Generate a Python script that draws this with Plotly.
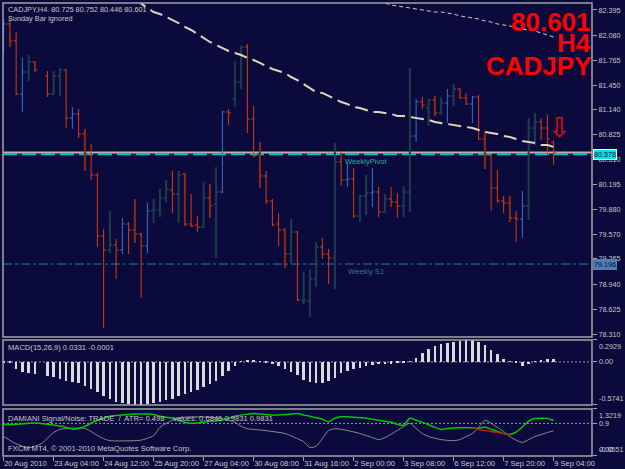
import plotly.graph_objects as go

# ---------------- data ----------------
symbol = "CADJPY"
timeframe = "H4"

bar_slot = [0, 1, 2, 3, 4, 5] + list(range(7, 89))
bar_kind = ["up_a", "dn_b", "dn_a", "up_a", "up_b", "dn_b",
            "dn_a", "up_b", "up_b", "dn_a", "up_a", "dn_a", "dn_b", "dn_a", "dn_a", "dn_a",
            "up_b", "dn_a", "up_a", "dn_a", "dn_b", "dn_a", "up_a", "up_b", "up_b", "up_b",
            "dn_a", "up_b", "dn_b", "dn_a", "dn_a", "up_b", "dn_b", "up_b", "up_a", "dn_a",
            "up_b", "up_b", "dn_a", "dn_a", "dn_b", "dn_a", "dn_a", "dn_a", "dn_b", "up_b",
            "dn_a", "up_b", "up_b", "up_b", "dn_a", "dn_a", "up_b", "dn_a", "up_a", "dn_a",
            "up_b", "up_b", "up_a", "dn_a", "up_b", "dn_a", "dn_a", "up_b", "up_b", "up_a",
            "dn_a", "up_b", "dn_b", "up_b", "up_a", "up_b", "dn_b", "dn_a", "up_a", "dn_a",
            "dn_b", "dn_a", "dn_a", "dn_a", "dn_b", "dn_a", "up_a", "up_b", "up_b", "dn_a",
            "dn_a", "dn_a"]
opens = [82.143, 82.219, 82.005, 81.337, 81.614, 81.740,
         81.564, 81.337, 81.564, 81.640, 81.035, 81.085, 80.834, 80.582, 80.317, 79.549,
         79.373, 79.436, 79.373, 79.700, 79.625, 79.574, 79.423, 79.864, 79.877, 80.028,
         80.128, 80.078, 80.330, 79.700, 79.688, 79.662, 80.028, 79.952, 80.103, 81.111,
         81.274, 81.488, 81.929, 81.022, 80.582, 80.305, 79.990, 79.700, 79.625, 79.322,
         79.599, 78.731, 78.731, 79.008, 79.411, 79.322, 79.272, 80.481, 80.254, 80.267,
         79.801, 80.053, 80.091, 80.103, 79.851, 80.015, 79.977, 79.927, 80.103, 80.808,
         81.237, 81.161, 81.262, 81.098, 81.224, 81.312, 81.400, 81.287, 81.211, 81.300,
         80.771, 80.569, 80.154, 79.990, 79.965, 79.776, 79.763, 79.927, 80.909, 80.985,
         80.909, 80.725]
highs = [82.269, 82.294, 82.118, 81.791, 81.828, 81.753,
         81.627, 81.627, 81.665, 81.652, 81.174, 81.148, 80.897, 80.708, 80.342, 79.637,
         79.864, 79.511, 79.776, 79.725, 80.015, 79.587, 79.965, 80.015, 80.141, 80.254,
         80.368, 80.368, 80.342, 80.078, 79.801, 80.229, 80.204, 80.418, 81.124, 81.148,
         81.753, 81.942, 81.967, 81.186, 80.733, 80.368, 80.015, 79.839, 79.650, 79.763,
         79.612, 79.096, 79.134, 79.474, 79.524, 79.385, 80.720, 80.620, 80.468, 80.405,
         80.065, 80.317, 80.405, 80.166, 80.078, 80.166, 80.091, 80.179, 81.665, 81.274,
         81.300, 81.274, 81.312, 81.300, 81.400, 81.463, 81.413, 81.350, 81.312, 81.325,
         80.871, 80.594, 80.380, 80.053, 80.053, 79.864, 80.116, 81.035, 81.098, 81.035,
         81.073, 80.752]
lows = [81.866, 81.929, 81.325, 81.111, 81.501, 81.614,
        81.300, 81.325, 81.312, 80.909, 80.897, 80.783, 80.368, 80.254, 79.411, 78.391,
        79.335, 79.008, 79.322, 79.322, 79.461, 78.768, 79.335, 79.713, 79.788, 79.977,
        79.839, 79.713, 79.675, 79.662, 79.599, 79.650, 79.776, 79.272, 80.091, 80.947,
        81.174, 81.400, 80.846, 80.544, 80.154, 79.952, 79.675, 79.423, 79.146, 79.196,
        78.731, 78.693, 78.529, 78.907, 79.259, 78.945, 78.882, 80.179, 80.166, 79.776,
        79.725, 79.814, 79.914, 79.788, 79.839, 79.914, 79.776, 79.788, 79.851, 80.733,
        81.148, 80.934, 81.060, 81.073, 80.972, 81.186, 81.274, 81.199, 80.972, 80.758,
        80.393, 79.864, 79.965, 79.839, 79.725, 79.474, 79.524, 79.751, 80.695, 80.758,
        80.569, 80.446]
closes = [82.219, 82.005, 81.337, 81.614, 81.740, 81.640,
          81.337, 81.564, 81.640, 81.035, 81.085, 80.834, 80.582, 80.317, 79.549, 79.373,
          79.436, 79.373, 79.700, 79.625, 79.574, 79.423, 79.864, 79.877, 80.028, 80.141,
          80.078, 80.317, 79.700, 79.675, 79.662, 80.028, 79.927, 80.103, 81.111, 81.098,
          81.488, 81.929, 81.022, 80.557, 80.305, 79.990, 79.688, 79.625, 79.322, 79.599,
          78.743, 78.740, 79.008, 79.411, 79.322, 79.272, 80.481, 80.254, 80.267, 79.801,
          80.053, 80.091, 80.103, 79.851, 80.015, 79.977, 79.927, 80.103, 80.808, 81.237,
          81.199, 81.262, 81.098, 81.224, 81.312, 81.400, 81.287, 81.211, 81.300, 80.771,
          80.569, 80.154, 79.990, 79.965, 79.776, 79.763, 79.927, 80.909, 80.985, 80.909,
          80.771, 80.601]

ma_fast_slot = list(range(21, 89))
ma_fast = [82.534, 82.471, 82.420, 82.370, 82.345, 82.307, 82.269, 82.231, 82.181, 82.143,
           82.093, 82.042, 81.992, 81.954, 81.917, 81.879, 81.854, 81.828, 81.791, 81.765,
           81.728, 81.690, 81.652, 81.627, 81.602, 81.551, 81.513, 81.463, 81.413, 81.362,
           81.350, 81.312, 81.274, 81.236, 81.211, 81.174, 81.161, 81.136, 81.111, 81.111,
           81.098, 81.085, 81.060, 81.060, 81.048, 81.035, 81.022, 81.010, 80.985, 80.972,
           80.959, 80.947, 80.934, 80.922, 80.909, 80.884, 80.859, 80.846, 80.834, 80.808,
           80.796, 80.771, 80.745, 80.733, 80.720, 80.695, 80.695, 80.670]
ma_slow_slot = list(range(60, 89))
ma_slow = [82.496, 82.483, 82.458, 82.445, 82.433, 82.420, 82.408, 82.395, 82.382, 82.370,
           82.370, 82.357, 82.345, 82.320, 82.307, 82.294, 82.282, 82.257, 82.244, 82.219,
           82.206, 82.194, 82.168, 82.156, 82.143, 82.131, 82.105, 82.080, 82.055]

weekly_pivot = 80.578
weekly_s1 = 79.196

price_ticks = [82.395, 82.080, 81.765, 81.450, 81.140, 80.825, 80.510,
               80.195, 79.880, 79.570, 79.265, 78.940, 78.625, 78.310]
time_tick_slot = [0, 8, 16, 24, 32, 40, 48, 56, 64, 72, 80, 88]
time_tick_labels = ["20 Aug 2010", "23 Aug 04:00", "24 Aug 12:00", "25 Aug 20:00",
                    "27 Aug 04:00", "30 Aug 08:00", "31 Aug 16:00", "2 Sep 00:00",
                    "3 Sep 08:00", "6 Sep 12:00", "7 Sep 20:00", "9 Sep 04:00"]

macd_hist = [-0.01, -0.02, -0.09, -0.13, -0.145, -0.16,
             -0.19, -0.205, -0.227, -0.249, -0.267, -0.281, -0.317, -0.362, -0.407, -0.452,
             -0.50, -0.53, -0.55, -0.56, -0.57, -0.574, -0.565, -0.55, -0.53, -0.51,
             -0.49, -0.46, -0.43, -0.40, -0.37, -0.33, -0.29, -0.25, -0.19, -0.12,
             -0.05, 0.01, 0.03, 0.02, 0.01, -0.01, -0.03, -0.06, -0.10, -0.14,
             -0.18, -0.24, -0.27, -0.28, -0.28, -0.26, -0.213, -0.145, -0.123, -0.10,
             -0.078, -0.055, -0.041, -0.033, -0.028, -0.023, -0.019, -0.01, 0.012, 0.058,
             0.126, 0.171, 0.216, 0.238, 0.252, 0.27, 0.285, 0.29, 0.2929, 0.26,
             0.22, 0.157, 0.103, 0.045, 0.004, -0.02, -0.055, -0.03, 0.012, 0.022,
             0.035, 0.0331]
macd_params = "15,26,9"
macd_main_value = 0.0331
macd_signal_value = -0.0001
macd_max = 0.2929
macd_min = -0.5741

dam_gray_slot = [0, 2, 4, 6, 8, 9, 10, 13, 14, 15, 16, 17, 21, 22, 24, 25, 27, 29, 31, 33,
                 35, 37, 38, 39, 41, 43, 45, 47, 48, 49, 50, 51, 52, 53, 55, 57, 59, 60, 61, 63,
                 64, 65, 66, 67, 68, 70, 72, 73, 74, 75, 76, 77, 78, 79, 80, 81, 82, 83, 84, 85,
                 86, 87, 88]
dam_gray = [0.514, 0.304, 0.184, 0.304, 0.633, 0.723, 0.753, 0.753, 0.663, 0.543,
            0.454, 0.394, 0.394, 0.409, 0.543, 0.783, 0.993, 1.082, 1.092, 1.082,
            1.043, 0.933, 0.813, 0.744, 0.708, 0.663, 0.603, 0.454, 0.364, 0.193,
            0.229, 0.454, 0.693, 0.744, 0.693, 0.603, 0.484, 0.424, 0.484, 0.693,
            0.813, 0.903, 0.753, 0.603, 0.514, 0.424, 0.394, 0.424, 0.514, 0.603,
            0.783, 0.993, 0.903, 0.783, 0.663, 0.514, 0.409, 0.343, 0.424, 0.514,
            0.573, 0.633, 0.6846]
dam_green_slot = [0, 2, 4, 5, 7, 9, 10, 11, 12, 13, 14, 15, 16, 17, 19, 21, 23, 24, 25, 27,
                  28, 29, 30, 31, 33, 35, 36, 37, 38, 40, 41, 43, 45, 46, 47, 48] + list(range(49, 89))
dam_green = [0.864, 0.873, 0.903, 0.912, 0.873, 0.822, 0.783, 0.732, 0.753, 0.813,
             0.903, 0.993, 1.052, 1.112, 1.142, 1.172, 1.172, 1.157, 1.112, 1.052,
             0.993, 0.933, 0.903, 0.912, 0.963, 0.993, 1.052, 1.112, 1.142, 1.187,
             1.172, 1.142, 1.157, 1.172, 1.187, 1.142,
             1.112, 1.067, 1.022, 0.948, 1.052, 1.097, 1.092, 1.082, 1.067, 1.052,
             1.022, 0.993, 0.963, 0.933, 0.873, 0.843, 1.052, 0.993, 0.933, 0.858,
             0.783, 0.723, 0.753, 0.768, 0.774, 0.774, 0.768, 0.753, 0.792, 0.723,
             0.663, 0.603, 0.573, 0.643, 0.792, 0.963, 1.043, 1.052, 1.043, 0.9831]
dam_red_slot = [75, 76, 77, 78, 79, 80, 81]
dam_red = [0.768, 0.72, 0.69, 0.66, 0.63, 0.60, 0.573]
dam_level = 0.9
dam_max = 1.3219
dam_min = -0.0551
dam_atr = 0.498
dam_values = [0.6846, 0.9831, 0.9831]

# ---------------- style ----------------
BG = "#0b0a3c"
FRAME = "#a4a4a4"
TXT = "#c8c8c8"
FONT = "Liberation Sans, Arial, sans-serif"
KIND_STYLE = {
    "up_a": ("#3c6ec8", 1),
    "up_b": ("#1e3c4c", 2),
    "dn_a": ("#dc3c0a", 1),
    "dn_b": ("#8a2a12", 2),
}
TICK = 0.38

fig = go.Figure()

# OHLC bars, one trace per colour kind
for kind, (col, w) in KIND_STYLE.items():
    xs, ys = [], []
    for s, k, o, h, l, c in zip(bar_slot, bar_kind, opens, highs, lows, closes):
        if k != kind:
            continue
        xs += [s, s, None, s - TICK, s, None, s, s + TICK, None]
        ys += [l, h, None, o, o, None, c, c, None]
    fig.add_trace(go.Scatter(x=xs, y=ys, mode="lines", line=dict(color=col, width=w),
                             xaxis="x", yaxis="y", hoverinfo="skip"))

# moving averages
fig.add_trace(go.Scatter(x=ma_fast_slot, y=ma_fast, mode="lines",
                         line=dict(color="#ddd6b8", width=2, dash="13px,6px"),
                         xaxis="x", yaxis="y", hoverinfo="skip"))
fig.add_trace(go.Scatter(x=ma_slow_slot, y=ma_slow, mode="lines",
                         line=dict(color="#cfcfbe", width=1, dash="4px,3px"),
                         xaxis="x", yaxis="y", hoverinfo="skip"))

# MACD histogram
fig.add_trace(go.Bar(x=bar_slot, y=macd_hist, width=0.4, marker=dict(color="#dadada", line=dict(width=0)),
                     xaxis="x", yaxis="y2", hoverinfo="skip"))

# DAMIANI lines
fig.add_trace(go.Scatter(x=dam_gray_slot, y=dam_gray, mode="lines", line=dict(color="#8c8c8c", width=1, shape="spline", smoothing=0.6),
                         xaxis="x", yaxis="y3", hoverinfo="skip"))
fig.add_trace(go.Scatter(x=dam_green_slot, y=dam_green, mode="lines", line=dict(color="#00c800", width=1.5, shape="spline", smoothing=0.6),
                         xaxis="x", yaxis="y3", hoverinfo="skip"))
fig.add_trace(go.Scatter(x=dam_red_slot, y=dam_red, mode="lines", line=dict(color="#d01010", width=1.5, shape="spline", smoothing=0.6),
                         xaxis="x", yaxis="y3", hoverinfo="skip"))

shapes = []
# horizontal levels in price pane
shapes.append(dict(type="line", xref="x domain", x0=0, x1=1, yref="y", y0=closes[-1], y1=closes[-1],
                   line=dict(color="#b4b4a4", width=2), layer="below"))
shapes.append(dict(type="line", xref="x domain", x0=0, x1=1, yref="y", y0=weekly_pivot, y1=weekly_pivot,
                   line=dict(color="#00c8cc", width=2, dash="14px,5px"), layer="below"))
shapes.append(dict(type="line", xref="x domain", x0=0, x1=1, yref="y", y0=weekly_s1, y1=weekly_s1,
                   line=dict(color="#2b7a9c", width=1, dash="9px,3px,3px,3px"), layer="below"))
shapes.append(dict(type="line", xref="x domain", x0=0, x1=1, yref="y2", y0=0, y1=0,
                   line=dict(color="#a0a0a0", width=1, dash="2px,2px"), layer="below"))
shapes.append(dict(type="line", xref="x domain", x0=0, x1=1, yref="y3", y0=dam_level, y1=dam_level,
                   line=dict(color="#a0a0a0", width=1, dash="2px,2px"), layer="below"))
# pane frames
for yr in ["y", "y2", "y3"]:
    shapes.append(dict(type="rect", xref="x domain", x0=0, x1=1, yref=yr + " domain", y0=0, y1=1,
                       line=dict(color=FRAME, width=1.5), layer="above"))

small = dict(family=FONT, size=7.6, color=TXT)
ann = []
ann.append(dict(xref="paper", yref="paper", x=0, y=1, xanchor="left", yanchor="top", xshift=3, yshift=0,
                text=f"{symbol},{timeframe}  {opens[-1]:.3f} {highs[-1]:.3f} {lows[-1]:.3f} {closes[-1]:.3f}",
                showarrow=False, font=dict(family=FONT, size=7.3, color=TXT)))
ann.append(dict(xref="paper", yref="paper", x=0, y=1, xanchor="left", yanchor="top", xshift=3, yshift=-9,
                text="Sunday Bar ignored", showarrow=False, font=dict(family=FONT, size=7.3, color=TXT)))
# big red labels
big = dict(family=FONT, size=26, color="#ff0000")
for txt, yp in [(f"{closes[-1]:.3f}", 0.958), (timeframe, 0.911), (symbol, 0.86)]:
    ann.append(dict(xref="paper", yref="paper", x=1, y=yp, xanchor="right", yanchor="middle", xshift=1,
                    text=f"<b>{txt}</b>", showarrow=False, font=big))
# down arrow over last bar
ann.append(dict(xref="x", yref="y", x=bar_slot[-1] + 0.9, y=highs[-1], xanchor="center", yanchor="bottom",
                yshift=-5, text="⇩", showarrow=False,
                font=dict(family="DejaVu Sans", size=27, color="#ff0000")))
# level labels
ann.append(dict(xref="x", yref="y", x=54.3, y=weekly_pivot, xanchor="left", yanchor="top", yshift=-1,
                text="WeeklyPivot", showarrow=False, font=dict(family=FONT, size=7.6, color="#1fb0a0")))
ann.append(dict(xref="x", yref="y", x=54.8, y=weekly_s1, xanchor="left", yanchor="top", yshift=-1,
                text="Weekly S1", showarrow=False, font=dict(family=FONT, size=7.6, color="#3f7088")))
# price boxes on the right scale
ann.append(dict(xref="paper", yref="y", x=1, y=weekly_pivot, xanchor="left", yanchor="middle", xshift=1,
                text=f"{weekly_pivot:.3f}", showarrow=False, bgcolor="#00e4e4", bordercolor="#ffffff",
                borderwidth=1, borderpad=0, font=dict(family=FONT, size=7.2, color="#0b0a3c")))
ann.append(dict(xref="paper", yref="y", x=1, y=weekly_s1, xanchor="left", yanchor="middle", xshift=1,
                text=f"{weekly_s1:.3f}", showarrow=False, bgcolor="#4a80b4", bordercolor="#4a80b4",
                borderwidth=1, borderpad=0, font=dict(family=FONT, size=7.2, color="#0b0a3c")))
# indicator titles
ann.append(dict(xref="paper", yref="y2 domain", x=0, y=1, xanchor="left", yanchor="top", xshift=3, yshift=-1,
                text=f"MACD({macd_params}) {macd_main_value:.4f} {macd_signal_value:.4f}", showarrow=False, font=small))
ann.append(dict(xref="paper", yref="y3 domain", x=0, y=1, xanchor="left", yanchor="top", xshift=3, yshift=-3,
                text=f"DAMIANI Signal/Noise: TRADE  /  ATR= {dam_atr:.3f}    values: "
                     + " ".join(f"{v:.4f}" for v in dam_values),
                showarrow=False, font=small))
ann.append(dict(xref="paper", yref="y3 domain", x=0, y=0, xanchor="left", yanchor="bottom", xshift=3, yshift=1,
                text="FXCM MT4, © 2001-2010 MetaQuotes Software Corp.", showarrow=False, font=small))
# right-scale labels of indicator panes
axis_lab = dict(family=FONT, size=7.2, color=TXT)
for yr, val, anc, txt in [("y2", macd_max, "top", f"{macd_max:.4f}"), ("y2", 0, "middle", "0.00"),
                          ("y2", macd_min, "bottom", f"{macd_min:.4f}"),
                          ("y3", dam_max, "top", f"{dam_max:.4f}"), ("y3", dam_level, "middle", f"{dam_level}"),
                          ("y3", dam_min, "bottom", f"{dam_min:.4f}"), ("y3", dam_min, "bottom", "0.00")]:
    ann.append(dict(xref="paper", yref=yr, x=1, y=val, xanchor="left", yanchor=anc, xshift=5,
                    text=txt, showarrow=False, font=axis_lab))

yax_common = dict(side="right", anchor="x", showgrid=False, zeroline=False, showline=False,
                  ticks="outside", ticklen=4, tickcolor=FRAME, tickwidth=1, automargin=False,
                  tickfont=dict(family=FONT, size=7.2, color=TXT), fixedrange=True)

fig.update_layout(
    width=625, height=469,
    margin=dict(l=3, r=33, t=3, b=13, autoexpand=False),
    paper_bgcolor=BG, plot_bgcolor=BG,
    showlegend=False, bargap=0,
    font=dict(family=FONT, color=TXT),
    xaxis=dict(domain=[0, 1], range=[-0.1, 94.14], anchor="y3", automargin=False,
               tickvals=time_tick_slot, ticktext=time_tick_labels, tickangle=0,
               ticks="outside", ticklen=4, tickcolor=FRAME, ticklabelposition="outside right",
               tickfont=dict(family=FONT, size=7.6, color=TXT),
               showgrid=False, zeroline=False, showline=False),
    yaxis=dict(domain=[0.2627, 1], range=[78.277, 82.483],
               tickvals=price_ticks, ticktext=[f"{v:.3f}" for v in price_ticks], **yax_common),
    yaxis2=dict(domain=[0.1126, 0.2561], range=[macd_min, macd_max],
                tickvals=[macd_max, 0, macd_min], showticklabels=False, **yax_common),
    yaxis3=dict(domain=[0, 0.1038], range=[dam_min, dam_max],
                tickvals=[dam_max, dam_level, dam_min], showticklabels=False, **yax_common),
    shapes=shapes,
    annotations=ann,
)

fig.write_html("out.html")
